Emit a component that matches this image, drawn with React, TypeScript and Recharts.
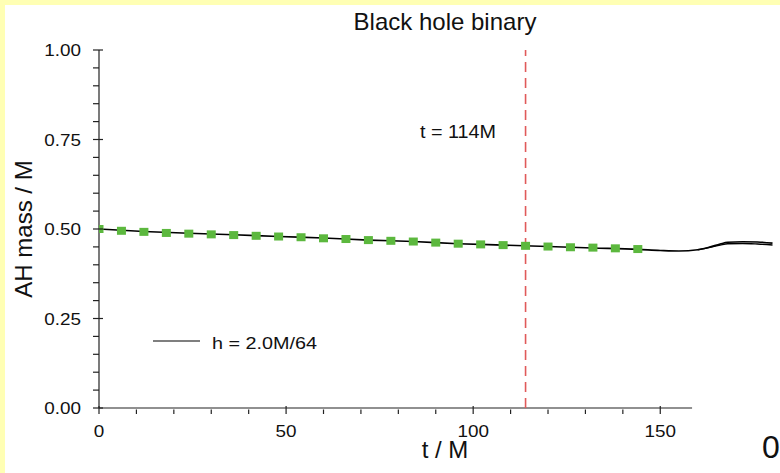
import React from 'react';
import {
  ComposedChart,
  Line,
  XAxis,
  YAxis,
  ReferenceLine,
} from 'recharts';

// green squares (coarse run), every 6M
const squareT = [0, 6, 12, 18, 24, 30, 36, 42, 48, 54, 60, 66, 72, 78, 84, 90, 96, 102, 108, 114, 120, 126, 132, 138, 144];
const squareMass = [0.5, 0.495, 0.492, 0.489, 0.487, 0.485, 0.483, 0.481, 0.479, 0.477, 0.474, 0.472, 0.469, 0.467, 0.465, 0.462, 0.459, 0.457, 0.455, 0.453, 0.451, 0.449, 0.448, 0.446, 0.444];

// black line h = 2.0M/64
const lineT = [0, 12, 24, 36, 48, 60, 72, 84, 96, 108, 120, 132, 144, 150, 155, 160, 163, 166, 168, 172, 176, 180];
const lineMass = [0.5, 0.493, 0.488, 0.484, 0.479, 0.475, 0.469, 0.465, 0.459, 0.455, 0.451, 0.447, 0.443, 0.44, 0.4385, 0.442, 0.449, 0.458, 0.463, 0.4645, 0.4638, 0.4605];

// second trace that splits off late in the run
const line2T = [160, 163, 166, 168, 172, 176, 180];
const line2Mass = [0.442, 0.448, 0.455, 0.459, 0.4595, 0.458, 0.4555];

const xTopTicks = [0, 10, 20, 30, 40, 50, 60, 70, 80, 90, 100, 110, 120, 130, 140, 150, 160, 170, 180];
const xBottomTicks = [0, 10, 20, 30, 40, 50, 60, 70, 80, 90, 100, 110, 120, 130, 140, 150];
const yTicks = [0, 0.05, 0.1, 0.15, 0.2, 0.25, 0.3, 0.35, 0.4, 0.45, 0.5, 0.55, 0.6, 0.65, 0.7, 0.75, 0.8, 0.85, 0.9, 0.95, 1];

const squares = squareT.map((t, i) => ({ t, mass: squareMass[i] }));
const line1 = lineT.map((t, i) => ({ t, mass: lineMass[i] }));
const line2 = line2T.map((t, i) => ({ t, mass: line2Mass[i] }));

const FONT = '"Liberation Sans", Arial, Helvetica, sans-serif';
const AXIS = '#222';

const BottomTick = (props: any) => {
  const { x, y, payload } = props;
  const major = payload.value % 50 === 0;
  return (
    <g>
      <line x1={x} x2={x} y1={y} y2={y - (major ? 8 : 4.5)} stroke={AXIS} strokeWidth={1.2} />
      {major && (
        <text
          transform={`translate(${x},${y + 23}) scale(1.18,1)`}
          textAnchor="middle"
          fontFamily={FONT}
          fontSize={16}
          fill="#111"
        >
          {payload.value}
        </text>
      )}
    </g>
  );
};

const TopTick = (props: any) => {
  const { x, y, payload } = props;
  const major = payload.value % 50 === 0;
  return <line x1={x} x2={x} y1={y} y2={y + (major ? 8 : 4.5)} stroke={AXIS} strokeWidth={1.2} />;
};

const LeftTick = (props: any) => {
  const { x, y, payload } = props;
  const major = Math.abs(payload.value * 4 - Math.round(payload.value * 4)) < 1e-6;
  return (
    <g>
      <line x1={x} x2={x + (major ? 10 : 6)} y1={y} y2={y} stroke={AXIS} strokeWidth={1.2} />
      {major && (
        <text
          transform={`translate(${x - 12},${y + 6}) scale(1.18,1)`}
          textAnchor="end"
          fontFamily={FONT}
          fontSize={16}
          fill="#111"
        >
          {payload.value.toFixed(2)}
        </text>
      )}
    </g>
  );
};

const Square = (props: any) => {
  const { cx, cy, index } = props;
  return <rect key={`sq-${index}`} x={cx - 4.5} y={cy - 4} width={9} height={8} fill="#5cb83e" />;
};

const App = () => {
  return (
    <div style={{ position: 'fixed', left: 0, top: 0, width: 780, height: 473, background: '#ffffb4' }}>
      <div style={{ position: 'absolute', left: 5, top: 5, width: 775, height: 468, background: '#fff' }} />
      <div style={{ position: 'absolute', left: 0, top: 0 }}>
        <ComposedChart width={780} height={473} margin={{ top: 50, right: 0, bottom: 0, left: 0 }}>
          <XAxis
            xAxisId="b"
            type="number"
            dataKey="t"
            domain={[0, 182]}
            ticks={xBottomTicks}
            axisLine={false}
            tickLine={false}
            tickMargin={0}
            height={65}
            tick={<BottomTick />}
            interval={0}
            allowDataOverflow
          />
          <XAxis
            xAxisId="t"
            orientation="top"
            type="number"
            domain={[0, 182]}
            ticks={xTopTicks}
            axisLine={{ stroke: AXIS, strokeWidth: 1.2 }}
            tickLine={false}
            tickMargin={0}
            height={0}
            tick={<TopTick />}
            interval={0}
            allowDataOverflow
          />
          <YAxis
            type="number"
            domain={[0, 1]}
            ticks={yTicks}
            width={99}
            axisLine={{ stroke: AXIS, strokeWidth: 1.2 }}
            tickLine={false}
            tickMargin={0}
            tick={<LeftTick />}
            interval={0}
          />
          <ReferenceLine
            xAxisId="b"
            segment={[{ x: 0, y: 0 }, { x: 158.5, y: 0 }]}
            stroke={AXIS}
            strokeWidth={1.2}
          />
          <Line
            xAxisId="b"
            data={squares}
            dataKey="mass"
            stroke="none"
            dot={<Square />}
            activeDot={false}
            isAnimationActive={false}
          />
          <Line
            xAxisId="b"
            data={line1}
            dataKey="mass"
            type="monotone"
            stroke="#000"
            strokeWidth={1.6}
            dot={false}
            isAnimationActive={false}
          />
          <Line
            xAxisId="b"
            data={line2}
            dataKey="mass"
            type="monotone"
            stroke="#000"
            strokeWidth={1.4}
            dot={false}
            isAnimationActive={false}
          />
          <ReferenceLine
            xAxisId="b"
            x={114}
            stroke="#e05a5a"
            strokeWidth={1.6}
            strokeDasharray="10 6"
          />
        </ComposedChart>
      </div>
      <svg
        width={780}
        height={473}
        style={{ position: 'absolute', left: 0, top: 0, pointerEvents: 'none' }}
        fontFamily={FONT}
      >
        <text x={445} y={30} textAnchor="middle" fontSize={24} fill="#111">
          Black hole binary
        </text>
        <text x={445} y={458} textAnchor="middle" fontSize={24} fill="#111">
          t / M
        </text>
        <text transform="translate(31.5,229) rotate(-90)" textAnchor="middle" fontSize={24} fill="#111">
          AH mass / M
        </text>
        <text transform="translate(420,137.5) scale(1.13,1)" fontSize={17.5} fill="#111">
          t = 114M
        </text>
        <line x1={153} x2={200} y1={341} y2={341} stroke="#000" strokeWidth={1.2} />
        <text transform="translate(212,349) scale(1.2,1)" fontSize={16.5} fill="#111">
          h = 2.0M/64
        </text>
        <text x={762} y={458} fontSize={32} fill="#111">
          0
        </text>
      </svg>
    </div>
  );
};

export default App;
